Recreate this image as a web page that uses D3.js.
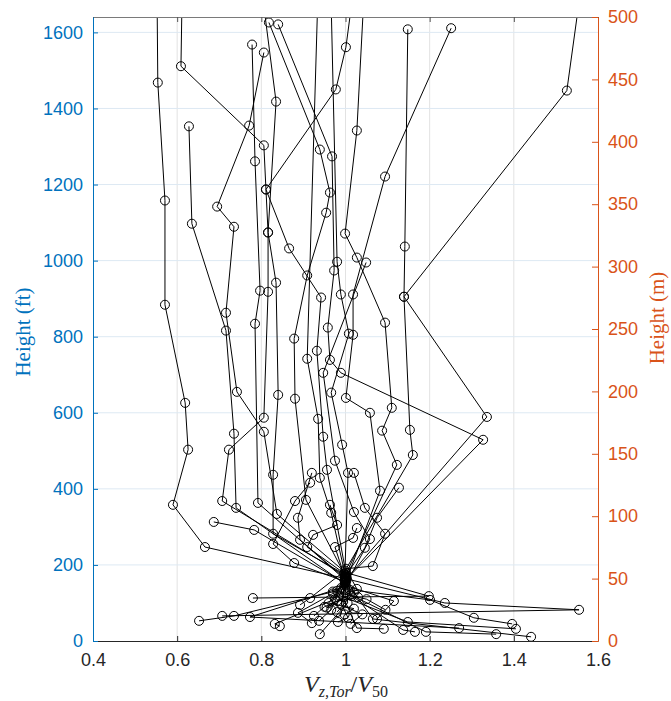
<!DOCTYPE html>
<html><head><meta charset="utf-8">
<script src="https://cdn.jsdelivr.net/npm/d3@7"></script>
<style>body{margin:0;background:#fff}</style>
</head><body>
<svg id="chart" width="671" height="701"></svg>
<script>
// ---------- data ----------
const xTicks = [0.4, 0.6, 0.8, 1, 1.2, 1.4, 1.6];
const xTickLabels = ["0.4", "0.6", "0.8", "1", "1.2", "1.4", "1.6"];
const ftTicks = [0, 200, 400, 600, 800, 1000, 1200, 1400, 1600];
const mTicks = [0, 50, 100, 150, 200, 250, 300, 350, 400, 450, 500];
// profile parts above the 50 m reference level : [V/V50, height ft]
const upperParts = [
  [[0.552,1720],[0.554,1468],[0.571,1158],[0.571,884],[0.619,626],[0.626,503],[0.590,358],[0.666,247]],
  [[0.612,1720],[0.609,1511],[0.806,1303],[0.811,1187],[0.816,1074],[0.816,918],[0.806,587],[0.723,503],[0.707,368]],
  [[0.778,1568],[0.785,1261],[0.797,921],[0.785,834],[0.792,363]],
  [[0.806,1547],[0.771,1355],[0.695,1142],[0.735,1089],[0.716,863],[0.742,655],[0.806,550],[0.837,334]],
  [[0.628,1353],[0.635,1097],[0.716,816],[0.735,545],[0.740,350]],
  [[0.818,1626],[0.939,1292],[0.963,1179],[0.954,1126],[0.909,961],[0.878,795],[0.880,637],[0.906,371]],
  [[0.840,1621],[0.968,1274],[0.973,974],[0.958,824],[0.963,739],[0.989,705],[1.327,529]],
  [[0.800,1720],[0.835,1418],[0.816,1074],[0.835,942],[0.840,647],[0.828,437],[0.828,282]],
  [[1.020,1720],[1.001,1561],[0.977,1450],[0.811,1187],[0.866,1032],[0.942,903],[0.932,763],[0.947,537],[0.956,450]],
  [[1.251,1611],[1.094,1221],[1.018,911],[1.018,805],[1.001,639],[1.058,600],[1.082,395]],
  [[1.148,1608],[1.141,1037],[1.139,905],[1.153,555],[1.160,489]],
  [[1.560,1720],[1.526,1447],[1.139,905],[1.336,589]],
  [[0.935,1720],[0.909,742],[0.935,584],[0.939,429],[0.966,337]],
  [[0.965,1720],[0.980,997],[0.989,911],[1.008,808],[0.966,653],[0.992,516],[1.006,442]],
  [[1.045,1720],[1.027,1342],[0.999,1071],[1.027,1008],[1.094,837],[1.110,613],[1.087,553],[1.122,463]],
  [[1.049,995],[0.947,705],[0.975,474],[1.020,339],[1.058,268]],
  [[0.920,442],[0.887,324],[0.892,266]],
  [[1.020,442],[1.046,350],[1.094,282],[1.065,197]],
  [[0.916,416],[0.880,368],[0.828,255],[0.878,205]],
  [[1.127,403],[1.075,324],[1.046,245]],
  [[0.963,358],[0.980,305],[0.923,279],[0.909,247]],
  [[1.027,297],[1.018,271],[0.975,247]],
  [[0.687,313],[0.783,292]]
];
// reference-level point of each profile (V/V50 close to 1 near 50 m)
const midPoints = [
  [1.000,164],[0.998,172],[1.002,158],[1.000,180],[0.999,150],[1.001,168],[1.000,160],
  [0.997,176],[1.003,166],[1.000,154],[0.999,185],[1.001,162],[1.000,170],[0.998,158],
  [1.002,178],[1.000,146],[0.999,164],[1.001,190],[1.000,156],[0.998,168],[1.002,174],
  [1.000,162],[0.999,152]
];
// profile parts below the reference level
const lowerParts = [
  [[1.236,100],[1.555,82],[0.707,66]],
  [[1.010,135],[1.201,108],[1.305,61],[1.396,45]],
  [[0.985,120],[1.148,50],[1.405,32]],
  [[1.198,118],[0.780,113]],
  [[0.990,140],[0.773,63],[1.270,34]],
  [[1.020,128],[1.065,58],[1.441,11]],
  [[0.980,132],[0.735,66],[0.652,53]],
  [[0.975,110],[0.832,45],[0.844,39]],
  [[1.005,100],[0.939,18]],
  [[0.970,125],[0.887,74],[0.920,47]],
  [[0.916,113],[0.892,95]],
  [[0.995,115],[1.027,34],[1.091,32]],
  [[1.015,118],[1.137,29],[1.165,24]],
  [[1.000,128],[1.191,24],[1.358,18]],
  [[0.990,98],[1.006,61],[0.982,50]],
  [[1.115,105],[1.075,58]],
  [[0.966,82],[0.937,53]],
  [[1.027,137],[0.980,76]],
  [[0.960,100],[1.020,85],[0.998,70]],
  [[1.010,120],[0.950,90],[0.925,66]],
  [[0.990,95],[1.040,70],[1.012,45]],
  [[0.970,130],[1.050,110],[1.095,82]],
  [[1.030,115],[0.980,105],[0.955,88]]
];

// ---------- layout ----------
const svg = d3.select("#chart");
const L = 93, R = 598, T = 17, B = 641;
const blue = "#0072BD", orange = "#D95319", dark = "#262626";
const x = d3.scaleLinear().domain([0.4, 1.6]).range([L, R]);
const yFt = d3.scaleLinear().domain([0, 500 / 0.3048]).range([B, T]);
const yM = d3.scaleLinear().domain([0, 500]).range([B, T]);

svg.append("rect").attr("width", 671).attr("height", 701).attr("fill", "#fff");

// grid
const grid = svg.append("g");
grid.selectAll("line.gx").data(xTicks.slice(1, -1)).join("line")
  .attr("x1", d => x(d)).attr("x2", d => x(d)).attr("y1", T).attr("y2", B)
  .attr("stroke", "#e2e2e2").attr("stroke-width", 1);
grid.selectAll("line.gy").data(ftTicks.slice(1)).join("line")
  .attr("x1", L).attr("x2", R).attr("y1", d => yFt(d)).attr("y2", d => yFt(d))
  .attr("stroke", "#dde9f3").attr("stroke-width", 1);

// clip
svg.append("clipPath").attr("id", "clip").append("rect")
  .attr("x", L).attr("y", T).attr("width", R - L).attr("height", B - T);

const profiles = upperParts.map((u, i) => u.concat([midPoints[i]], lowerParts[i] || []));
const plot = svg.append("g").attr("clip-path", "url(#clip)");
const line = d3.line().x(d => x(d[0])).y(d => yFt(d[1]));
plot.selectAll("path.prof").data(profiles).join("path")
  .attr("d", line).attr("fill", "none").attr("stroke", "#000").attr("stroke-width", 1);
const pts = profiles.flat();
plot.selectAll("circle").data(pts).join("circle")
  .attr("cx", d => x(d[0])).attr("cy", d => yFt(d[1])).attr("r", 4.5)
  .attr("fill", "none").attr("stroke", "#000").attr("stroke-width", 1);

// axes
const fontTick = "'Liberation Sans', Arial, Helvetica, sans-serif";
const xAxis = d3.axisBottom(x).tickValues(xTicks).tickFormat((d, i) => xTickLabels[i]).tickSizeInner(-5).tickSizeOuter(0).tickPadding(12);
const gx = svg.append("g").attr("transform", `translate(0,${B})`).call(xAxis);
gx.select(".domain").attr("stroke", dark);
gx.selectAll(".tick line").attr("stroke", dark);
gx.selectAll("text").attr("fill", dark).style("font-family", fontTick).style("font-size", "18px");

// top border with ticks
const xTop = d3.axisTop(x).tickValues(xTicks).tickFormat("").tickSizeInner(-5).tickSizeOuter(0);
const gxt = svg.append("g").attr("transform", `translate(0,${T})`).call(xTop);
gxt.select(".domain").attr("stroke", "#7a7a7a");
gxt.selectAll(".tick line").attr("stroke", "#555");

const yAxisL = d3.axisLeft(yFt).tickValues(ftTicks).tickFormat(d3.format("d")).tickSizeInner(-5).tickSizeOuter(0).tickPadding(10);
const gyl = svg.append("g").attr("transform", `translate(${L},0)`).call(yAxisL);
gyl.select(".domain").attr("stroke", blue);
gyl.selectAll(".tick line").attr("stroke", blue);
gyl.selectAll("text").attr("fill", blue).style("font-family", fontTick).style("font-size", "18px");

const yAxisR = d3.axisRight(yM).tickValues(mTicks).tickFormat(d3.format("d")).tickSizeInner(-6).tickSizeOuter(0).tickPadding(10);
const gyr = svg.append("g").attr("transform", `translate(${R},0)`).call(yAxisR);
gyr.select(".domain").attr("stroke", orange);
gyr.selectAll(".tick line").attr("stroke", orange);
gyr.selectAll("text").attr("fill", orange).style("font-family", fontTick).style("font-size", "18px");

// titles
const serif = "'Liberation Serif', 'DejaVu Serif', 'Times New Roman', serif";
svg.append("text").attr("transform", "translate(30,332) rotate(-90)")
  .attr("text-anchor", "middle").attr("fill", blue)
  .style("font-family", serif).style("font-size", "21px").text("Height (ft)");
svg.append("text").attr("transform", "translate(664,318) rotate(-90)")
  .attr("text-anchor", "middle").attr("fill", orange)
  .style("font-family", serif).style("font-size", "21px").text("Height (m)");

const xt = svg.append("text").attr("x", 346).attr("y", 692).attr("text-anchor", "middle")
  .attr("fill", dark).style("font-family", serif).style("font-size", "24px");
xt.append("tspan").style("font-style", "italic").text("V");
xt.append("tspan").attr("dy", 5).style("font-size", "16px").style("font-style", "italic").text("z,Tor");
xt.append("tspan").attr("dy", -5).text("/");
xt.append("tspan").style("font-style", "italic").text("V");
xt.append("tspan").attr("dy", 5).style("font-size", "16px").text("50");
</script>
</body></html>
